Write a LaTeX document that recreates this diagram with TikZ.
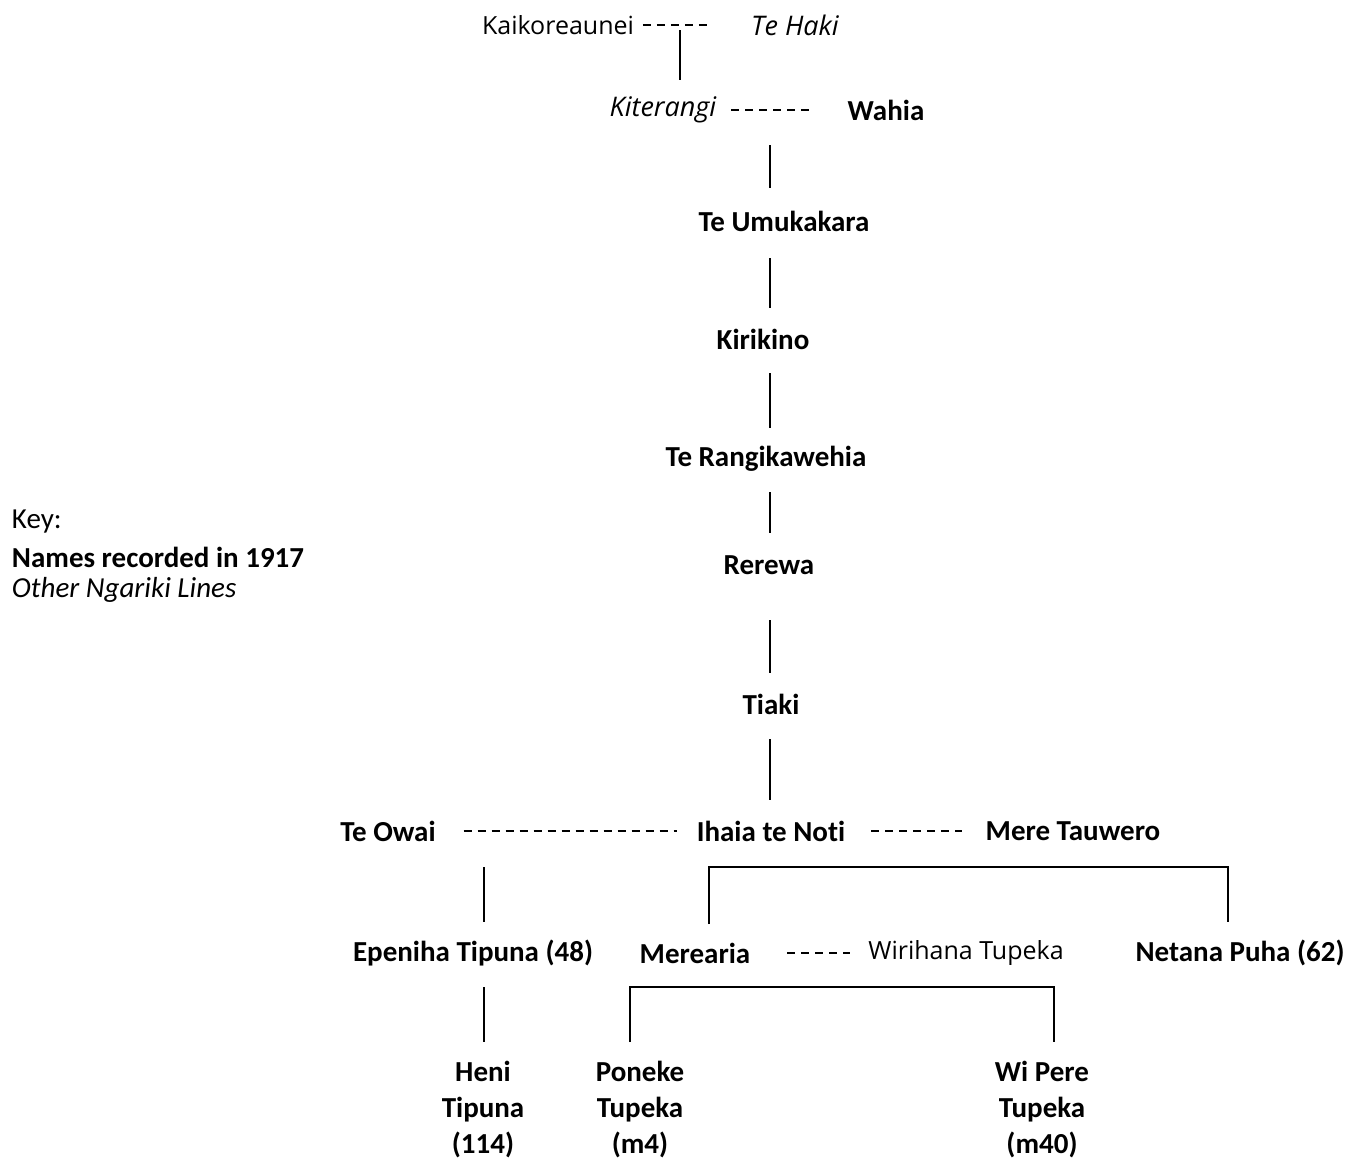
\documentclass[tikz,border=0pt]{standalone}
\usepackage{fontspec}
\setmainfont{Carlito}[Ligatures=NoCommon]
\newfontfamily\othfont{Open Sans}
\begin{document}
\begin{tikzpicture}[x=1pt,y=-1pt,
  every node/.style={inner sep=0pt,outer sep=0pt,anchor=center},
  nm/.style={font=\fontsize{29}{36}\selectfont\bfseries,align=center},
  ot/.style={font=\othfont\fontsize{25}{30}\selectfont},
  oti/.style={font=\othfont\fontsize{27}{32}\selectfont\itshape},
  key/.style={font=\fontsize{29}{36}\selectfont,anchor=west},
  link/.style={line width=1.8pt},
  mate/.style={line width=1.3pt,dash pattern=on 8pt off 6pt}]
\useasboundingbox (0,0) rectangle (1359,1160);

% generations
\node[ot]  (kai)  at (558,25)  {Kaikoreaunei};
\node[oti] (haki) at (795,25)  {Te Haki};
\node[oti] (kit)  at (663,110) {Kiterangi};
\node[nm]  (wah)  at (886,110) {Wahia};
\node[nm]  (umu)  at (784,221) {Te Umukakara};
\node[nm]  (kir)  at (763,339) {Kirikino};
\node[nm]  (ran)  at (766,459) {Te Rangikawehia};
\node[nm]  (rer)  at (769,565) {Rerewa};
\node[nm]  (tia)  at (771,704) {Tiaki};
\node[nm]  (owa)  at (388,831) {Te Owai};
\node[nm]  (iha)  at (771,831) {Ihaia te Noti};
\node[nm]  (mer)  at (1073,831) {Mere Tauwero};
\node[nm]  (epe)  at (473,953) {Epeniha Tipuna (48)};
\node[nm]  (mea)  at (695,953) {Merearia};
\node[ot]  (wir)  at (966,953) {Wirihana Tupeka};
\node[nm]  (net)  at (1240,953) {Netana Puha (62)};
\node[nm]  (hen)  at (483,1109) {Heni\\Tipuna\\(114)};
\node[nm]  (pon)  at (640,1109) {Poneke\\Tupeka\\(m4)};
\node[nm]  (wip)  at (1042,1109) {Wi Pere\\Tupeka\\(m40)};

% key
\node[key] (k0) at (12,522) {Key:};
\node[key,font=\fontsize{29}{36}\selectfont\bfseries] (k1) at (12,557) {Names recorded in 1917};
\node[key,font=\fontsize{29}{36}\selectfont\itshape] (k2) at (12,590) {Other Ngariki Lines};

% unions
\draw[mate] ([xshift=9pt]kai.east) -- ([xshift=-39pt]haki.west);
\draw[mate] ([xshift=15pt]kit.east) -- ([xshift=-37pt]wah.west);
\draw[mate] ([xshift=28pt]owa.east) -- ([xshift=-20pt]iha.west);
\draw[mate] ([xshift=26pt]iha.east) -- ([xshift=-24pt]mer.west);
\draw[mate] ([xshift=37pt]mea.east) -- ([xshift=-18pt]wir.west);

% descent lines
\coordinate (u1) at (680,30);
\draw[link] (u1) -- (u1 |- 0,80);
\coordinate (u2) at (770,145);
\draw[link] (u2) -- (u2 |- 0,188);
\draw[link] (770,258) coordinate (u3) -- (u3 |- 0,308);
\draw[link] (770,373) coordinate (u4) -- (u4 |- 0,428);
\draw[link] (770,492) coordinate (u5) -- (u5 |- 0,533);
\draw[link] (770,620) coordinate (u6) -- (u6 |- 0,673);
\draw[link] (770,739) coordinate (u7) -- (u7 |- 0,800);

% children of Ihaia te Noti and Mere Tauwero
\coordinate (b1l) at (709,867);
\coordinate (b1r) at (1228,867);
\draw[link] (b1l |- 0,924) -- (b1l) -- (b1r) -- (b1r |- 0,922);
% child of Te Owai
\draw[link] (484,867) coordinate (t1) -- (t1 |- 0,922);

% children of Merearia and Wirihana Tupeka
\coordinate (b2l) at (630,987);
\coordinate (b2r) at (1054,987);
\draw[link] (b2l |- 0,1042) -- (b2l) -- (b2r) -- (b2r |- 0,1042);
% child of Epeniha Tipuna
\draw[link] (484,987) coordinate (t2) -- (t2 |- 0,1042);
\end{tikzpicture}
\end{document}
